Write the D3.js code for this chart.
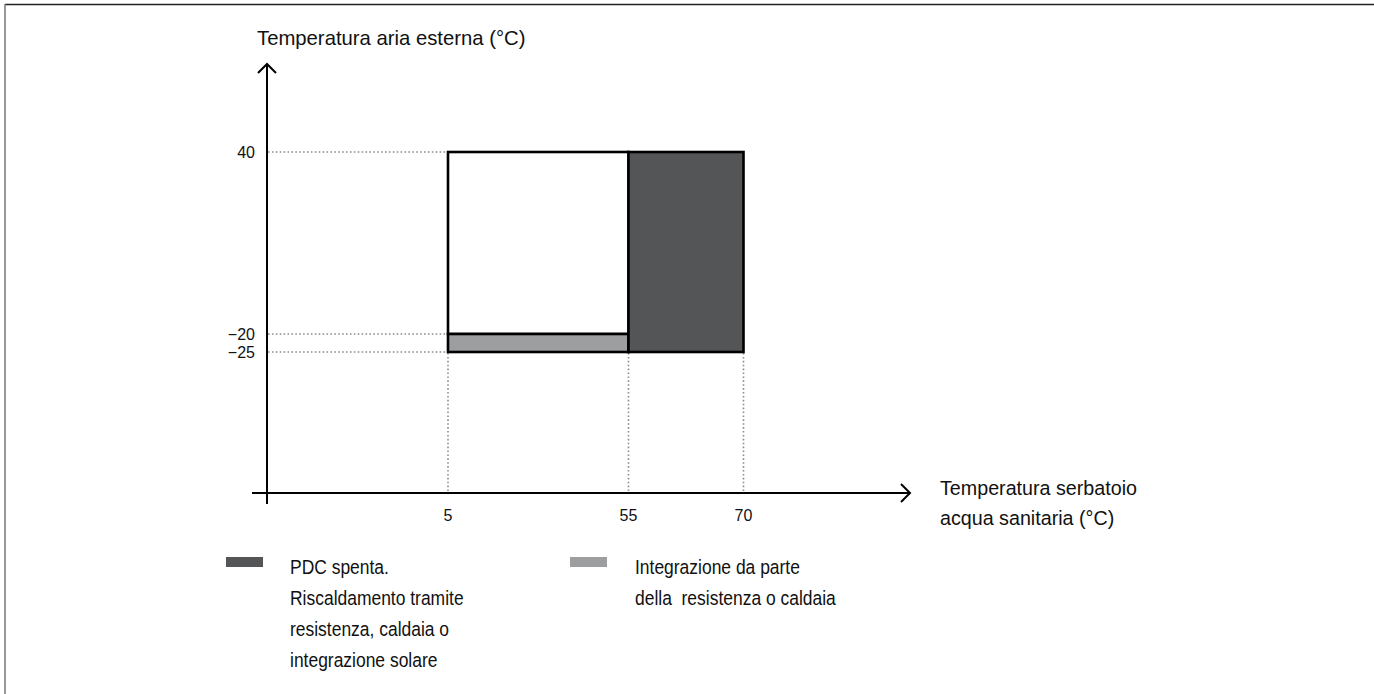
<!DOCTYPE html>
<html><head><meta charset="utf-8">
<script src="https://cdn.jsdelivr.net/npm/d3@7"></script>
<style>
html,body{margin:0;padding:0;background:#fff;}
svg{display:block;}
text{font-family:"Liberation Sans",Arial,sans-serif;fill:#111;}
</style></head>
<body>
<svg id="c" width="1374" height="694"></svg>
<script>
// ---- data ----
const xTicks = [5, 55, 70];
const yTicks = [40, -20, -25];
const xTickLabels = ["5", "55", "70"];
const yTickLabels = ["40", "\u221220", "\u221225"];
const regionNames = ["Funzionamento PDC", "Integrazione", "PDC spenta"];
const regionX0 = [5, 5, 55];
const regionX1 = [55, 55, 70];
const regionY0 = [-20, -25, -25];
const regionY1 = [40, -20, 40];
const regionColors = ["#ffffff", "#9d9e9f", "#545557"];
const legendLabels = [
  ["PDC spenta.", "Riscaldamento tramite", "resistenza, caldaia o", "integrazione solare"],
  ["Integrazione da parte", "della  resistenza o caldaia"]
];
const legendColors = ["#545557", "#9d9e9f"];
const yTitle = "Temperatura aria esterna (\u00b0C)";
const xTitle = ["Temperatura serbatoio", "acqua sanitaria (\u00b0C)"];

// ---- scales (schematic, piecewise) ----
const x = d3.scaleLinear().domain([5, 55, 70]).range([448, 628.5, 743.5]);
const y = d3.scaleLinear().domain([-25, -20, 40]).range([352, 334, 152]);

const svg = d3.select("#c");

// frame
svg.append("line").attr("x1",5).attr("y1",4.5).attr("x2",1374).attr("y2",4.5)
  .attr("stroke","#222").attr("stroke-width",1.5);
svg.append("line").attr("x1",5).attr("y1",4).attr("x2",5).attr("y2",694)
  .attr("stroke","#777").attr("stroke-width",1.5);

const axX = 267, axY = 493;

// dotted guide lines
const dot = svg.append("g").attr("stroke","#8c8c8c").attr("stroke-width",1.6)
  .attr("stroke-dasharray","1.6 2.3").attr("fill","none");
yTicks.forEach(v => {
  dot.append("line").attr("x1",axX+1).attr("x2",x(5)).attr("y1",y(v)).attr("y2",y(v));
});
xTicks.forEach(v => {
  dot.append("line").attr("x1",x(v)).attr("x2",x(v)).attr("y1",y(-25)+1).attr("y2",axY);
});

// regions
svg.append("g").selectAll("rect").data(regionNames).join("rect")
  .attr("x",(d,i)=>x(regionX0[i]))
  .attr("y",(d,i)=>y(regionY1[i]))
  .attr("width",(d,i)=>x(regionX1[i])-x(regionX0[i]))
  .attr("height",(d,i)=>y(regionY0[i])-y(regionY1[i]))
  .attr("fill",(d,i)=>regionColors[i])
  .attr("stroke","#000").attr("stroke-width",2.6);

// axes
const ax = svg.append("g").attr("stroke","#000").attr("fill","none").attr("stroke-width",2);
ax.append("line").attr("x1",axX).attr("x2",axX).attr("y1",64).attr("y2",504);
ax.append("line").attr("x1",252).attr("x2",910).attr("y1",axY).attr("y2",axY);
ax.append("path").attr("d",`M${axX-9},${73} L${axX},${64} L${axX+9},${73}`);
ax.append("path").attr("d",`M${901},${axY-9} L${910},${axY} L${901},${axY+9}`);

// tick labels
svg.append("g").selectAll("text").data(yTicks).join("text")
  .attr("x",255).attr("y",d=>y(d)).attr("dy","0.35em")
  .attr("text-anchor","end").attr("font-size",16)
  .text((d,i)=>yTickLabels[i]);
svg.append("g").selectAll("text").data(xTicks).join("text")
  .attr("x",d=>x(d)).attr("y",521)
  .attr("text-anchor","middle").attr("font-size",16)
  .text((d,i)=>xTickLabels[i]);

// axis titles
svg.append("text").attr("x",257).attr("y",45).attr("font-size",20.3).text(yTitle);
svg.append("g").selectAll("text").data(xTitle).join("text")
  .attr("x",940).attr("y",(d,i)=>495+i*30).attr("font-size",19.7).text(d=>d);

// legend (narrow-looking text: taller glyphs, compressed horizontally)
const legX = [226, 570], txtX = [290, 635];
legendLabels.forEach((lines,i)=>{
  svg.append("rect").attr("x",legX[i]).attr("y",557).attr("width",37).attr("height",10)
    .attr("fill",legendColors[i]);
  svg.append("g").selectAll("text").data(lines).join("text")
    .attr("transform",(d,j)=>`translate(${txtX[i]},${574+j*31}) scale(0.86,1)`)
    .attr("font-size",20.3)
    .attr("xml:space","preserve").style("white-space","pre")
    .text(d=>d);
});
</script>
</body></html>
